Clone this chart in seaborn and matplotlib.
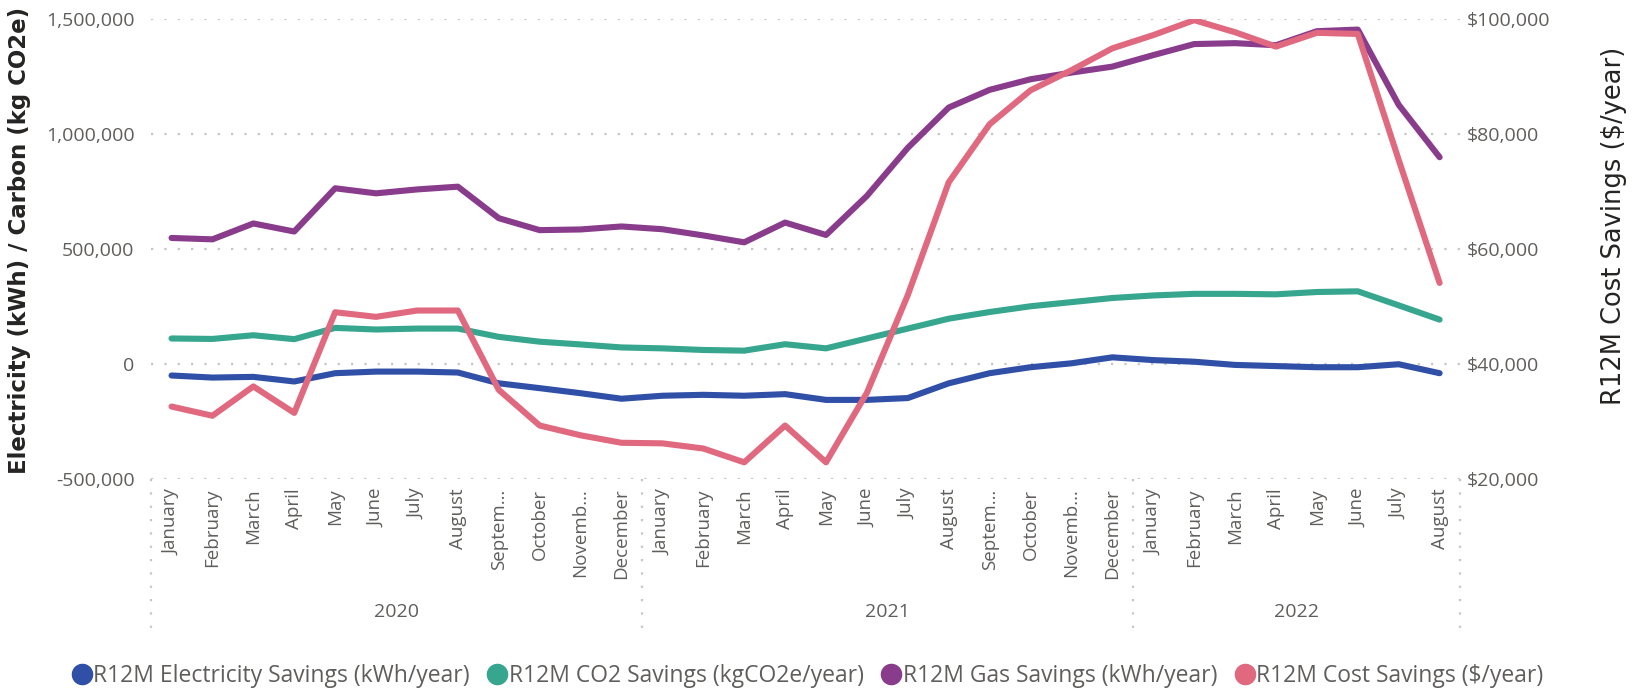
import matplotlib
matplotlib.use('Agg')
import matplotlib.pyplot as plt
from matplotlib.ticker import FuncFormatter
from matplotlib.lines import Line2D
import numpy as np
import pandas as pd
import seaborn as sns

# Data
years = ['2020', '2021', '2022']
month_labels = ['January', 'February', 'March', 'April', 'May', 'June', 'July', 'August',
                'Septem…', 'October', 'Novemb…', 'December'] * 2 + \
               ['January', 'February', 'March', 'April', 'May', 'June', 'July', 'August']
elec = [-50e3, -59e3, -56e3, -76e3, -40e3, -33e3, -33e3, -37e3, -84e3, -105e3, -127e3, -151e3,
        -138e3, -134e3, -138e3, -131e3, -156e3, -156e3, -148e3, -84e3, -40e3, -14e3, 3e3, 29e3,
        17e3, 10e3, -4e3, -9e3, -14e3, -14e3, -1e3, -40e3]
co2 = [111e3, 109e3, 125e3, 108e3, 157e3, 150e3, 154e3, 154e3, 118e3, 97e3, 85e3, 72e3,
       68e3, 61e3, 58e3, 86e3, 68e3, 111e3, 154e3, 197e3, 226e3, 251e3, 269e3, 287e3,
       298e3, 305e3, 305e3, 303e3, 313e3, 316e3, 255e3, 193e3]
gas = [548e3, 542e3, 611e3, 576e3, 764e3, 742e3, 759e3, 771e3, 634e3, 582e3, 585e3, 598e3,
       586e3, 559e3, 529e3, 615e3, 561e3, 731e3, 940e3, 1115e3, 1192e3, 1238e3, 1267e3, 1293e3,
       1343e3, 1391e3, 1395e3, 1386e3, 1447e3, 1454e3, 1127e3, 899e3]
cost = [32600, 31000, 36100, 31500, 49000, 48200, 49300, 49300, 35500, 29300, 27600, 26300,
        26200, 25300, 22900, 29300, 22900, 35000, 52000, 71600, 81700, 87600, 91100, 94900,
        97200, 99800, 97700, 95200, 97600, 97400, 75500, 54100]

names = ['R12M Electricity Savings (kWh/year)', 'R12M CO2 Savings (kgCO2e/year)',
         'R12M Gas Savings (kWh/year)', 'R12M Cost Savings ($/year)']
colors = ['#3050A8', '#37A68F', '#8A3C8C', '#E0697F']

TXT_FONT = ['Open Sans', 'DejaVu Sans']
GRID_C = '#C8C6C4'
LBL_C = '#605E5C'

sns.set_style('white')
plt.rcParams['font.family'] = TXT_FONT

df = pd.DataFrame({'idx': np.arange(len(elec)), 'elec': elec, 'co2': co2, 'gas': gas,
                   'cost': cost})

fig = plt.figure(figsize=(16.35, 6.91), dpi=100)
ax = fig.add_axes([0.0924, 0.3068, 0.8006, 0.6657])
ax2 = ax.twinx()

for col, c in zip(['elec', 'co2', 'gas'], colors[:3]):
    sns.lineplot(data=df, x='idx', y=col, color=c, lw=4.4, ax=ax, solid_capstyle='round')
sns.lineplot(data=df, x='idx', y='cost', color=colors[3], lw=4.4, ax=ax2,
             solid_capstyle='round')

ax.set_xlim(-0.5, len(elec) - 0.5)
ax.set_ylim(-500000, 1500000)
ax2.set_ylim(20000, 100000)
ax.set_yticks([-500000, 0, 500000, 1000000, 1500000])
ax2.set_yticks([20000, 40000, 60000, 80000, 100000])
ax.yaxis.set_major_formatter(FuncFormatter(lambda v, p: f'{v:,.0f}'))
ax2.yaxis.set_major_formatter(FuncFormatter(lambda v, p: f'${v:,.0f}'))

for a in (ax, ax2):
    for s in a.spines.values():
        s.set_visible(False)
    a.tick_params(axis='y', length=0, labelsize=14, labelcolor=LBL_C)
    a.set_xlabel('')
    a.set_ylabel('')
ax.tick_params(axis='y', pad=12)
ax2.tick_params(axis='y', pad=5)
ax.yaxis.grid(True, color=GRID_C, linestyle=(0, (1, 5)), lw=1.6)
ax2.yaxis.grid(False)
ax.xaxis.grid(False)

ax.set_xticks(np.arange(len(elec)))
ax.set_xticklabels(month_labels, rotation=90, fontsize=13.5, color=LBL_C)
ax.tick_params(axis='x', length=0, pad=7)

# Year labels and separators below the axis
trans = ax.get_xaxis_transform()
for i, yr in enumerate(years):
    start = i * 12
    end = min(start + 11, len(elec) - 1)
    ax.text((start + end) / 2, -0.29, yr, transform=trans, ha='center', va='center',
            fontsize=14, color=LBL_C)
for xb in [-0.5, 11.5, 23.5, len(elec) - 0.5]:
    ax.plot([xb, xb], [0, -0.33], transform=trans, clip_on=False, color=GRID_C,
            linestyle=(0, (1, 5)), lw=1.6)

fig.text(0.012, 0.652, 'Electricity (kWh) / Carbon (kg CO2e)', rotation=90, ha='center',
         va='center', fontsize=16.5, color='#252423', fontweight='bold',
         fontfamily='DejaVu Sans')
fig.text(0.987, 0.673, 'R12M Cost Savings ($/year)', rotation=90, ha='center', va='center',
         fontsize=18.5, color='#252423', fontfamily='DejaVu Sans')

handles = [Line2D([], [], marker='o', ls='', color=c, markersize=14.5) for c in colors]
fig.legend(handles, names, loc='center', bbox_to_anchor=(0.4927, 0.022), ncol=4,
           frameon=False, handletextpad=-0.1, columnspacing=0.6, borderaxespad=0,
           handlelength=1.2, prop={'size': 16.5}, labelcolor=LBL_C)

fig.savefig('out.png', dpi=100)
